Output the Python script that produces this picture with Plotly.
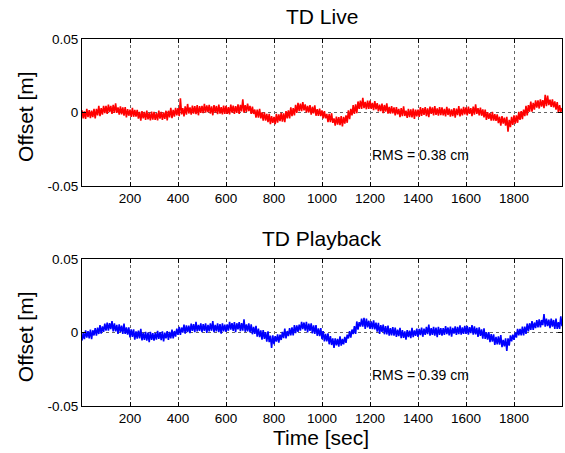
import plotly.graph_objects as go

# Sample times [sec]
time_sec = list(range(0, 2001, 5))

# TD Live offsets [mm] (every 5 s)
live_mm = [
    1.5, -4, 0.7, -4.3, 2.4, -3.1, 1.6, -3.9, 1.3, -3.2, 2.5, -4, 2.5, -2, 4.5, -2.5, 3, -1.5, 4.5, -0.5,
    4.5, -1, 5.3, 0.3, 4.5, -1, 5.2, -0.3, 6.3, -0.2, 3.5, -1.5, 4.2, -1.3, 3.4, -2.1, 3.6, -3.4, 2.3, -2.2,
    2, -3, 3.1, -2.9, 1.7, -2.8, 1.8, -4.2, 0.4, -5.6, 1, -4, 0.4, -5.1, 1.3, -4.7, -0.3, -5.3, 0.6, -4.9,
    0.5, -5, -0.4, -5.4, 1.3, -4.2, 0.4, -5.1, 0.1, -4.4, 1.2, -5.3, 1.2, -3.3, 3.2, -3.8, 1.7, -2.8, 3.1, -1.9,
    3, -2.5, 9.7, -1.3, 2.9, -2.6, 4.1, -1.4, 5.8, -0.7, 3.5, -1.5, 4.7, -0.8, 4.4, -1.1, 5.1, -1.9, 4.3, -0.2,
    4.5, -0.5, 5.9, -0.1, 4.8, 0.3, 5.2, -0.8, 4.1, -1.9, 5, 0, 4.4, -1.1, 5.3, -0.7, 3.7, -1.3, 4.6, -0.9,
    4.5, -1, 3.7, -1.3, 5.4, -0.1, 4.6, -0.9, 4.3, -0.2, 5.5, -1, 5.2, 0.7, 9, -0.2, 5, 0.5, 6, 1,
    4.5, -1, 4, -1, 2, -3.5, 2, -3.5, 2.5, -4, 0, -5.5, 0, -5.5, -1, -6.5, -1, -8, -2.5, -7,
    -3, -8, -0.9, -6.9, -1.3, -5.8, -0.2, -6.2, -0.6, -6.6, 1, -4, 1.5, -4, 3.5, -2.5, 3, -2, 5.2, -0.3,
    6.5, 1, 6, 1, 7, 1.5, 5.5, 0, 4.5, 0, 5, -1.5, 3.9, -0.6, 4.8, -2.2, 2.2, -2.3, 2.6, -2.4,
    1.5, -4, 1, -4, -1, -6.5, -1, -6.5, -0.5, -7, -4, -9, -2.8, -8.3, -3.1, -8.6, -2.4, -9.4, -3, -7.5,
    -2, -7, 1.5, -4.5, 2.5, -2, 5, -1, 5.5, -0.5, 7.5, 2.5, 8, 2.5, 10, 3, 7.2, 2.2, 8, 2.5,
    8, 2.5, 6.6, 1.6, 7.7, 2.2, 6.3, 0.8, 5.4, 0.9, 6, -0.5, 5.1, 0.6, 6.2, -0.8, 3.8, -0.7, 4.4, -0.6,
    3.5, -2, 3.7, -1.3, 2.4, -3.1, 3, -2.5, 4.1, -2.4, 1.3, -3.7, 2.4, -3.1, 2.1, -3.4, 2.7, -4.3, 1.9, -2.6,
    2, -3, 3.7, -2.3, 2.9, -1.6, 3.6, -2.4, 2.8, -3.2, 4, -1, 3.5, -2, 4.4, -1.6, 2.8, -2.2, 3.7, -1.8,
    3.5, -2, 2.4, -2.6, 3.8, -1.7, 2.7, -2.8, 2.1, -2.4, 3, -3.5, 2.7, -1.8, 4.4, -2.6, 2.6, -1.9, 3.8, -1.2,
    3.5, -2, 4, -1, 3, -2.5, 4, -1.5, 5.5, -1, 3, -2, 3.3, -2.2, 2.1, -3.4, 1.9, -5.1, 0.2, -4.3,
    -0.5, -5.5, 0.4, -5.6, -1.2, -5.7, -1.3, -7.3, -2.9, -8.9, -2.5, -7.5, -3.5, -9, -3, -13, -5, -10, -3, -8.5,
    -2, -7.5, -2, -7, 0.5, -5, 1, -4.5, 2, -2.5, 4.5, -2, 5, 0.5, 7.5, 0.5, 6.5, 2, 8.3, 3.3,
    8.2, 2.7, 9, 4, 8.4, 2.9, 12, 4.3, 11.5, 5, 8.8, 3.8, 9, 3.5, 7.5, 2, 7, 0, 5, 0.5,
    3,
]

# TD Playback offsets [mm] (every 5 s)
playback_mm = [
    -5.5, -0.5, -4.5, 1.5, -3.5, 1, -4, 2, -4.5, 1.5, -2, 3, -2.2, 3.3, -1, 5, -0.8, 4.2, 0.5, 6,
    1.3, 6.8, 1.3, 6.3, 2.3, 7.8, 0.8, 6.3, 0.7, 5.2, -0.9, 5.6, 0.2, 4.7, -1, 6, -1, 3.5, -1.5, 3.5,
    -3.3, 2.2, -2.9, 2.1, -4.8, 0.7, -4.2, 1.3, -4, 2.5, -5.3, -0.3, -5, 0.5, -5.5, 0, -6.5, 0.5, -5, -0.5,
    -5.5, -0.5, -4.9, 1.1, -4.3, 0.2, -5.2, 0.8, -6.1, -0.1, -4, 1, -5, 0.5, -4, 2, -4, 1, -2.8, 2.7,
    -1.6, 3.9, -1.6, 3.4, -0.1, 5.4, -0.7, 4.8, 0.2, 4.7, -0.5, 6, 1.2, 5.7, 0.2, 7.2, 0.7, 5.2, 1.2, 6.2,
    0.2, 5.7, 1.2, 6.2, -0.3, 5.2, 0.7, 6.2, 1.2, 7.7, 0.2, 5.2, 0.7, 6.2, 0.2, 5.7, -0.8, 6.2, 0.8, 5.3,
    0.5, 5.5, 1.2, 7.2, 1.9, 6.4, 1.1, 7.1, 0.3, 6.3, 2.1, 7.1, 0.9, 6.4, 1.2, 9, 0.5, 5.5, 0.7, 6.2,
    0, 5.5, -1.2, 3.8, -1, 4.5, -2.8, 2.7, -3.1, 1.4, -4.9, 1.6, -4.3, 0.2, -6.2, 0.8, -6.6, -2.1, -10.5, -2,
    -8, -2.5, -6.2, -1.2, -6.9, -1.4, -5.1, 0.4, -3.8, 2.7, -4, 1, -2.5, 3, -2, 3.5, -2, 5, -0.5, 4.8,
    0.4, 5.4, 1.3, 7.3, 2.3, 6.8, 1.3, 7.3, 0, 6, 1.2, 6.2, -0.6, 4.9, -0.9, 5.1, -2.2, 2.8, -2.5, 3,
    -4.5, 1, -6, -1, -6, -0.5, -8, -2.5, -8.5, -4, -10.5, -4, -8.8, -4.3, -9.6, -2.6, -8.9, -4.4, -8, -3,
    -7, -1.5, -4, 1, -3.5, 2, -1.1, 4.4, -1, 7.5, 2, 7, 4, 9.5, 4, 10, 2.5, 9.5, 3.5, 8,
    2.5, 7.5, 2.3, 8.3, 2.2, 6.7, 0.6, 6.6, -1, 5, 0.4, 5.4, -1.2, 4.3, -1.3, 4.7, -2.1, 2.9, -1.9, 3.6,
    -2.2, 3.3, -3, 2, -2.4, 3.1, -3.8, 1.7, -3.7, 0.8, -4.9, 1.6, -3.2, 1.3, -3.9, 3.1, -3.1, 1.4, -2.3, 2.7,
    -3, 2.5, -1.7, 3.3, -2.9, 2.6, -1.6, 3.9, -1.1, 5.4, -2.1, 2.9, -1.6, 3.9, -2.1, 3.4, -3.1, 3.9, -1.6, 2.9,
    -2.1, 2.9, -1.6, 4.4, -1.1, 3.4, -2, 4, -2.9, 3.1, -0.8, 4.2, -1.7, 3.8, -1.1, 4.9, -1.5, 3.5, -0.9, 4.6,
    -0.9, 4.6, -1.4, 3.6, -0.4, 5.1, -1.4, 4.1, -1.3, 3.2, -3, 3.5, -2.3, 2.2, -4.1, 2.9, -4.4, 0.1, -4.8, 0.2,
    -6.6, -1.1, -6.2, -1.2, -8.4, -2.9, -8.1, -2.6, -8.3, -1.8, -10, -5, -9.5, -4, -12.5, -4, -9, -2, -6, -1.5,
    -5, 0, -3.5, 2.5, -2, 2.5, -2, 4, -2, 4, -1, 6, 0.8, 6.3, 1.8, 7.8, 1.8, 6.8, 3, 8.5,
    3.5, 9, 3.5, 8.5, 5, 12.5, 4, 9.5, 4.3, 8.8, 3, 9.5, 4, 8.5, 2.5, 9.5, 2.5, 7, 2.5, 11,
    4.3,
]

x_ticks = [200, 400, 600, 800, 1000, 1200, 1400, 1600, 1800]
y_ticks = [-0.05, 0, 0.05]
y_tick_text = ["-0.05", "0", "0.05"]
titles = ["TD Live", "TD Playback"]
rms_labels = ["RMS = 0.38 cm", "RMS = 0.39 cm"]
y_label = "Offset [m]"
x_label = "Time [sec]"

live_m = [v / 1000 for v in live_mm]
playback_m = [v / 1000 for v in playback_mm]

FONT = "Liberation Sans, Arial, Helvetica, sans-serif"
BIG = dict(family=FONT, size=21, color="black")
SMALL = dict(family=FONT, size=14, color="black")

fig = go.Figure()
fig.add_trace(go.Scatter(x=time_sec, y=live_m, mode="lines",
                         line=dict(color="#ff0000", width=1.6),
                         xaxis="x", yaxis="y", showlegend=False))
fig.add_trace(go.Scatter(x=time_sec, y=playback_m, mode="lines",
                         line=dict(color="#0000ff", width=1.6),
                         xaxis="x2", yaxis="y2", showlegend=False))

axis_common = dict(showline=True, linecolor="black", linewidth=1, mirror="ticks",
                   ticks="inside", ticklen=4, tickcolor="black", automargin=False,
                   showgrid=True, gridcolor="#666666", griddash="dot", gridwidth=1,
                   zeroline=False, tickfont=dict(family=FONT, size=13.5, color="black"))

xa = dict(axis_common, range=[0, 2000], tickvals=x_ticks)
ya = dict(axis_common, range=[-0.05, 0.05], tickvals=y_ticks, ticktext=y_tick_text)

fig.update_layout(
    template="none",
    width=565, height=453,
    margin=dict(l=82, r=3, t=39, b=47, autoexpand=False),
    paper_bgcolor="white", plot_bgcolor="white",
    xaxis=dict(xa, anchor="y", domain=[0, 1]),
    yaxis=dict(ya, anchor="x", domain=[0.5995, 1]),
    xaxis2=dict(xa, anchor="y2", domain=[0, 1]),
    yaxis2=dict(ya, anchor="x2", domain=[0, 0.4005]),
    annotations=[
        dict(text=titles[0], xref="paper", yref="paper", x=0.5, y=1.0613,
             yanchor="middle", showarrow=False, font=BIG),
        dict(text=titles[1], xref="paper", yref="paper", x=0.5, y=0.4564,
             yanchor="middle", showarrow=False, font=BIG),
        dict(text=y_label, xref="paper", yref="paper", x=-0.119, y=0.790, textangle=-90,
             xanchor="center", yanchor="middle", showarrow=False, font=BIG),
        dict(text=y_label, xref="paper", yref="paper", x=-0.119, y=0.190, textangle=-90,
             xanchor="center", yanchor="middle", showarrow=False, font=BIG),
        dict(text=x_label, xref="paper", yref="paper", x=0.497, y=-0.0845,
             xanchor="center", yanchor="middle", showarrow=False, font=BIG),
        dict(text=rms_labels[0], xref="x", yref="y", x=1200, y=-0.029, xanchor="left",
             showarrow=False, font=SMALL),
        dict(text=rms_labels[1], xref="x2", yref="y2", x=1200, y=-0.029, xanchor="left",
             showarrow=False, font=SMALL),
    ],
)

fig.write_html("out.html", config={"displayModeBar": False},
               post_script="document.body.style.margin='0';document.body.style.overflow='hidden';")
